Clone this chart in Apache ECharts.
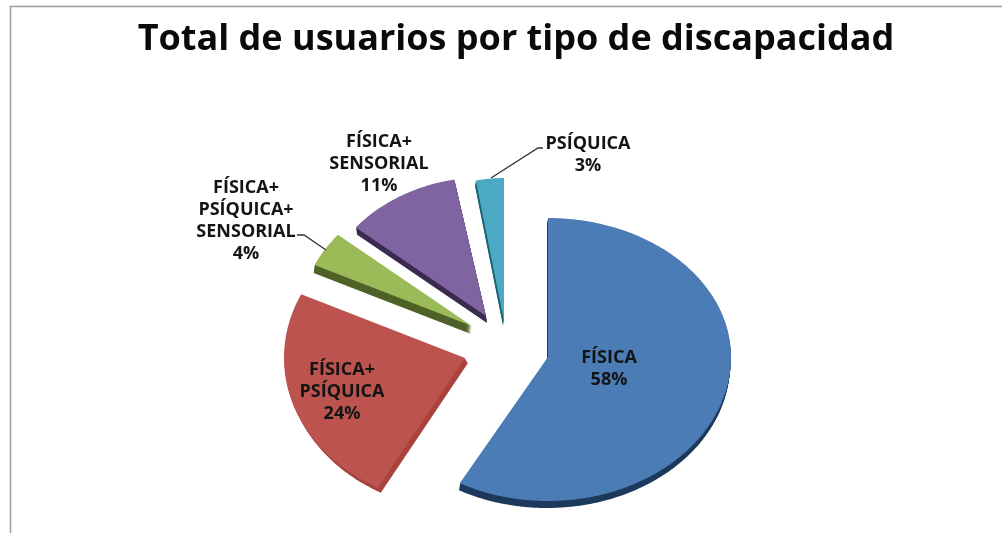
<!DOCTYPE html>
<html>
<head>
<meta charset="utf-8">
<style>html,body{margin:0;padding:0;background:#fff}#c{width:1002px;height:533px}</style>
<script src="https://cdn.jsdelivr.net/npm/echarts@6/dist/echarts.min.js"></script>
</head>
<body>
<div id="c"></div>
<script>
const titleText = 'Total de usuarios por tipo de discapacidad';
const categories = ['FÍSICA', 'FÍSICA+\nPSÍQUICA', 'FÍSICA+\nPSÍQUICA+\nSENSORIAL', 'FÍSICA+\nSENSORIAL', 'PSÍQUICA'];
const values = [58, 24, 4, 11, 3];
const topColors = ['#4b7cb6', '#bd534f', '#9bbb59', '#8064a2', '#4ba9c3'];
const sideColors = ['#1d3a5c', '#a8433f', '#4f6228', '#3a2b50', '#1f6474'];

// Layout of the exploded, tilted pie (not data)
const center = [548, 357];
const explode = [[0, 0], [-83, 1], [-76, -31], [-62, -41], [-44, -36]];
const radiusX = [183, 181, 174, 169, 150];
const radiusYTop = [139, 150, 143, 139, 143];
const radiusYBottom = [144, 148, 143, 139, 143];
const depth = [7, 5, 8, 7, 5];
const sideShift = [-1, 3, -1, 1, -1];
const labelPos = [[609, 369], [342, 392], [246, 221], [379, 164], [588, 155]];
const leaderLines = [null, null,
  [[297, 235], [304, 235], [326, 250]], null,
  [[543, 148], [538, 148], [491, 178]]];

const total = values.reduce((a, b) => a + b, 0);
const starts = [];
values.reduce((acc, v, i) => { starts[i] = acc; return acc + v; }, 0);

function slicePoints(i, dx, dy) {
  const a0 = starts[i] / total * 2 * Math.PI;
  const a1 = (starts[i] + values[i]) / total * 2 * Math.PI;
  const cx = center[0] + explode[i][0] + dx;
  const cy = center[1] + explode[i][1] + dy;
  const pts = [[cx, cy]];
  const n = Math.max(8, Math.ceil((a1 - a0) * 60));
  for (let k = 0; k <= n; k++) {
    const a = a0 + (a1 - a0) * k / n;
    const c = Math.cos(a);
    pts.push([cx + radiusX[i] * Math.sin(a), cy - (c > 0 ? radiusYTop[i] : radiusYBottom[i]) * c]);
  }
  return pts;
}

const chart = echarts.init(document.getElementById('c'), null, { renderer: 'canvas' });
chart.setOption({
  animation: false,
  backgroundColor: '#ffffff',
  title: {
    text: titleText, left: 511, top: 17, textAlign: 'center',
    textStyle: { fontFamily: 'Open Sans', fontWeight: 700, fontSize: 36, color: '#0a0a0a' }
  },
  graphic: [
    { type: 'polyline', silent: true, z: 0,
      shape: { points: [[10.5, 533], [10.5, 6.5], [1002, 6.5]] },
      style: { stroke: '#9a9a9a', lineWidth: 1.5, fill: null } }
  ],
  tooltip: { show: false },
  series: [{
    type: 'custom',
    coordinateSystem: 'none',
    data: values.map((v, i) => ({ name: categories[i], value: [i, v] })),
    renderItem: function (params, api) {
      const i = api.value(0);
      const children = [];
      for (let d = depth[i]; d >= 1; d--) {
        children.push({
          type: 'polygon',
          shape: { points: slicePoints(i, sideShift[i] * d / depth[i], d) },
          style: { fill: sideColors[i], stroke: null }
        });
      }
      children.push({
        type: 'polygon',
        shape: { points: slicePoints(i, 0, 0) },
        style: { fill: topColors[i], stroke: null }
      });
      if (leaderLines[i]) {
        children.push({
          type: 'polyline',
          shape: { points: leaderLines[i] },
          style: { stroke: '#333333', lineWidth: 1.3, fill: null }
        });
      }
      children.push({
        type: 'text',
        style: {
          text: categories[i] + '\n' + api.value(1) + '%',
          x: labelPos[i][0], y: labelPos[i][1],
          align: 'center', verticalAlign: 'middle',
          font: '700 18px "Open Sans"', lineHeight: 22,
          fill: '#141414'
        }
      });
      return { type: 'group', children: children };
    }
  }]
});
</script>
</body>
</html>
